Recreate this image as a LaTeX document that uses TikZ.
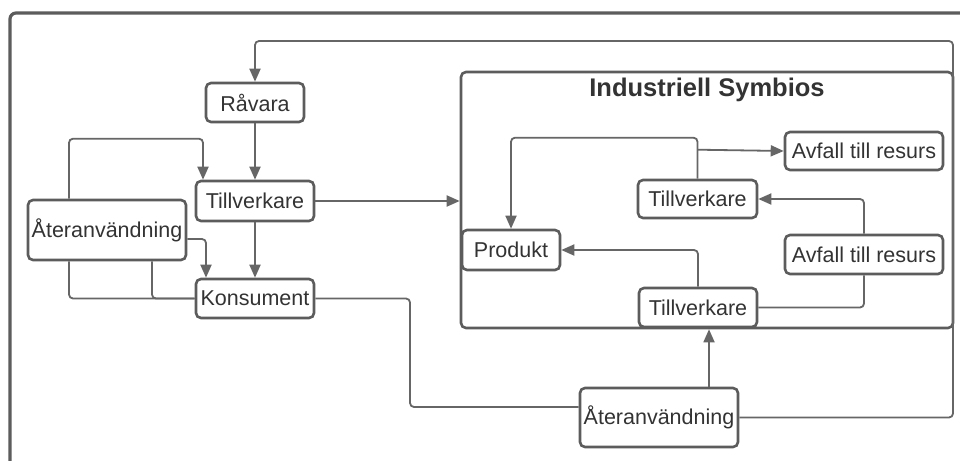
\documentclass[tikz,border=0pt]{standalone}
\usepackage{fontspec}
\setmainfont{Liberation Sans}
\usetikzlibrary{arrows.meta,calc}
\definecolor{boxc}{HTML}{5C5C5C}
\definecolor{linec}{HTML}{666666}
\definecolor{txtc}{HTML}{333333}
\begin{document}
\begin{tikzpicture}[x=1pt,y=-1pt,
  box/.style={draw=boxc, line width=2.6pt, rounded corners=5pt, fill=white, text=txtc,
    font=\fontsize{21.5}{24}\selectfont, inner sep=0pt, anchor=center},
  conn/.style={draw=linec, line width=1.8pt, rounded corners=4pt},
  arr/.style={conn, -{Triangle[length=13pt,width=11pt]}}]
\useasboundingbox (0,0) rectangle (960,460);
\clip (0,0) rectangle (960,460);
\fill[white] (0,0) rectangle (960,460);
\draw[boxc, line width=3.2pt, rounded corners=6pt] (10,480) -- (10,13) -- (980,13);

% container
\node[box, minimum width=492pt, minimum height=256pt] (sym) at (707,200) {};
\node[text=txtc, font=\bfseries\fontsize{25.5}{28}\selectfont] (title) at (707,90) {Industriell Symbios};

% left nodes
\node[box, minimum width=98pt, minimum height=39pt] (rav) at (255,102.5) {Råvara};
\node[box, minimum width=118pt, minimum height=40pt] (tl) at (255,201) {Tillverkare};
\node[box, minimum width=158pt, minimum height=60pt] (ateL) at (107,230) {Återanvändning};
\node[box, minimum width=118pt, minimum height=39pt] (kons) at (255,298.5) {Konsument};

% inner nodes
\node[box, minimum width=158pt, minimum height=38pt] (avf1) at (864,151) {Avfall till resurs};
\node[box, minimum width=119pt, minimum height=38pt] (tm) at (697.5,199) {Tillverkare};
\node[box, minimum width=98pt, minimum height=40pt] (prod) at (511,250) {Produkt};
\node[box, minimum width=158pt, minimum height=39pt] (avf2) at (864,254.5) {Avfall till resurs};
\node[box, minimum width=118pt, minimum height=39pt] (tb) at (698,307.5) {Tillverkare};

% bottom node
\node[box, minimum width=158pt, minimum height=59pt] (ateB) at (659,417.5) {Återanvändning};

% helper coordinates
\coordinate (l1) at ([xshift=-38pt]ateL.north);
\coordinate (l1t) at ([xshift=-52pt]tl.north);
\coordinate (l2) at ([yshift=-9pt]ateL.east);
\coordinate (l2t) at ([xshift=-49pt]kons.north);
\coordinate (l3) at ([xshift=-38pt]ateL.south);
\coordinate (l4) at ([xshift=45pt]ateL.south);
\coordinate (b1) at ([yshift=10.5pt]ateB.west);
\coordinate (ua) at ([xshift=50pt]ateB.north);
\coordinate (m1) at ([yshift=29pt]tm.north);

% connectors
\draw[arr] (ateB.east) -| (953,41) -| (rav.north);
\draw[arr] (rav.south) -- (tl.north);
\draw[arr] (l1) -- ++(0,-60) -| (l1t);
\draw[arr] (tl.south) -- (kons.north);
\draw[arr] (l2) -| (l2t);
\draw[conn] (l3) |- (kons.west);
\draw[conn] (l4) |- (kons.west);
\draw[arr] (tl.east) -- (tl.east -| sym.west);
\draw[conn] (kons.east) -- (410,298.5) |- (b1);
\draw[arr] (ua) -- (ua |- sym.south);

\draw[arr] (tm.north) -- ++(0,-41) -| (prod.north);
\draw[arr] (m1) -- (avf1.west);
\draw[arr] (avf2.north) |- (tm.east);
\draw[conn] (avf2.south) |- (tb.east);
\draw[arr] (tb.north) |- (prod.east);
\end{tikzpicture}
\end{document}
